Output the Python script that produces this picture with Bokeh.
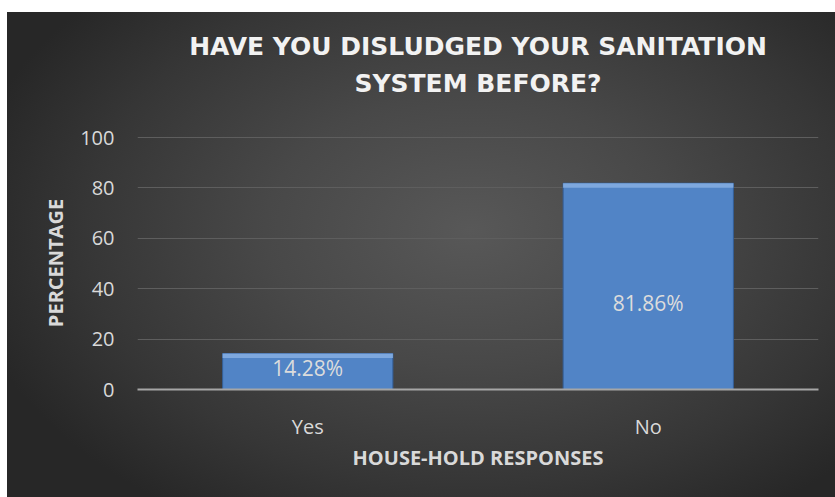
from bokeh.plotting import figure
from bokeh.models import (FactorRange, Range1d, Title, InlineStyleSheet, ColumnDataSource,
                          FixedTicker, LinearAxis)
from bokeh.embed import file_html
from bokeh.resources import INLINE

# ---- data ----
categories = ["Yes", "No"]
percentages = [14.28, 81.86]
y_ticks = [0, 20, 40, 60, 80, 100]
title_lines = ["HAVE YOU DISLUDGED YOUR SANITATION", "SYSTEM BEFORE?"]
x_title = "HOUSE-HOLD RESPONSES"
y_title = "PERCENTAGE"

css = (":host { background: radial-gradient(ellipse 62% 70% at 56% 45%, "
       "#585858 0%, #484848 40%, #363636 75%, #272727 100%) 7px 12px / 828px 485px no-repeat, #ffffff; }")

p = figure(
    x_range=FactorRange(factors=categories, range_padding=0),
    y_range=Range1d(0, 100.4),
    width=835, height=497,
    output_backend="svg", toolbar_location=None,
    min_border_left=137, min_border_right=17, min_border_top=136, min_border_bottom=108,
    border_fill_color=None, background_fill_color=None, outline_line_color=None,
    stylesheets=[InlineStyleSheet(css=css)],
)
p.title = None

title_font = dict(text_font="DejaVu Sans", text_font_size="25px",
                  text_font_style="bold", text_color="#f2f2f2")

# second title line carried by a tick-less axis above the frame (gives vertical offset control)
title_axis = LinearAxis(ticker=FixedTicker(ticks=[]), axis_line_color=None,
                        major_tick_line_color=None, minor_tick_line_color=None,
                        major_tick_out=0, major_tick_in=0, minor_tick_out=0, minor_tick_in=0,
                        axis_label=title_lines[1], axis_label_standoff=39,
                        axis_label_text_font="DejaVu Sans", axis_label_text_font_size="25px",
                        axis_label_text_font_style="bold", axis_label_text_color="#f2f2f2")
p.add_layout(title_axis, "above")
p.add_layout(Title(text=title_lines[0], standoff=10, align="center", **title_font), "above")

src = ColumnDataSource(dict(
    x=categories,
    top=percentages,
    hl_bottom=[v - 1.8 for v in percentages],
    label_y=[v / 2 for v in percentages],
    label=[f"{v:.2f}%" for v in percentages],
    label_off=[-4, 17],
))

p.vbar(x="x", top="top", width=0.5, source=src, fill_color="#5184c6",
       line_color="#345f98", line_width=1)
p.vbar(x="x", top="top", bottom="hl_bottom", width=0.5, source=src,
       fill_color="#7ea8de", line_color=None)
p.text(x="x", y="label_y", text="label", y_offset="label_off", source=src,
       text_align="center", text_baseline="middle", text_font={"value": "Open Sans"},
       text_font_size="21px", text_color="#dcdcdc")

# grid
p.xgrid.grid_line_color = None
p.ygrid.grid_line_color = "#5e5e5e"
p.ygrid.grid_line_width = 1

# x axis
xa = p.below[0]
xa.axis_line_color = "#a6a6a6"
xa.axis_line_width = 2
xa.major_tick_line_color = None
xa.minor_tick_line_color = None
xa.major_label_text_color = "#d9d9d9"
xa.major_label_text_font = "Open Sans"
xa.major_label_text_font_size = "20px"
xa.major_label_standoff = 17
xa.axis_label = x_title
xa.axis_label_text_color = "#d9d9d9"
xa.axis_label_text_font = "Open Sans"
xa.axis_label_text_font_size = "20px"
xa.axis_label_text_font_style = "bold"
xa.axis_label_standoff = 1

# y axis
ya = p.left[0]
ya.ticker = FixedTicker(ticks=y_ticks)
ya.axis_line_color = None
ya.major_tick_line_color = None
ya.minor_tick_line_color = None
ya.major_label_text_color = "#d9d9d9"
ya.major_label_text_font = "Open Sans"
ya.major_label_text_font_size = "20px"
ya.major_label_standoff = 17
ya.axis_label = y_title
ya.axis_label_text_color = "#d9d9d9"
ya.axis_label_text_font = "Open Sans"
ya.axis_label_text_font_size = "20px"
ya.axis_label_text_font_style = "bold"
ya.axis_label_standoff = 8

open("out.html", "w").write(file_html(p, INLINE))
